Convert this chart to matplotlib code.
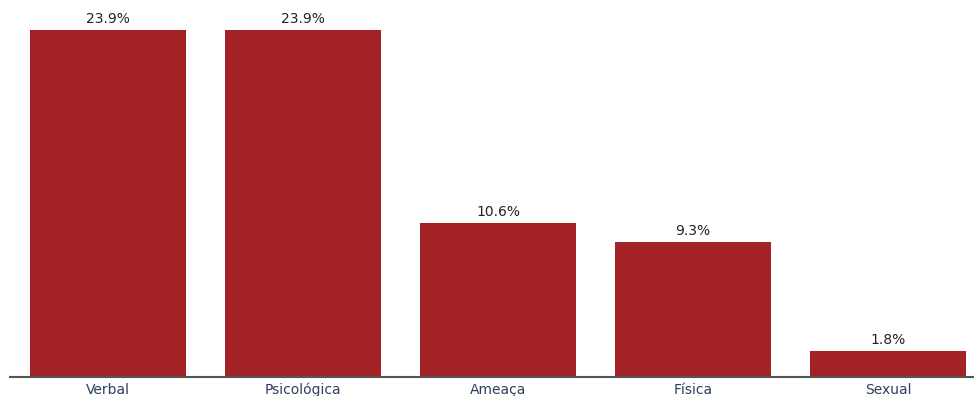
import matplotlib.pyplot as plt

categories = ["Verbal", "Psicológica", "Ameaça", "Física", "Sexual"]
values = [23.9, 23.9, 10.6, 9.3, 1.8]
labels = ["23.9%", "23.9%", "10.6%", "9.3%", "1.8%"]

fig = plt.figure(figsize=(9.74, 3.96), dpi=100)
ax = fig.add_axes([10 / 974, 19 / 396, 964 / 974, 377 / 396])

bars = ax.bar(range(len(categories)), values, width=0.8, color="#a32226")

for b, lab in zip(bars, labels):
    ax.annotate(lab, (b.get_x() + b.get_width() / 2, b.get_height()),
                xytext=(0, 3), textcoords="offset points",
                ha="center", va="bottom", fontsize=10, color="#222222")

ax.set_xlim(-0.503, 4.44)
ax.set_ylim(0, 25.96)
ax.set_xticks(range(len(categories)))
ax.set_xticklabels(categories, fontsize=10, color="#2e3f5c")
ax.tick_params(axis="x", length=0, pad=4)
ax.set_yticks([])
for s in ["top", "right", "left"]:
    ax.spines[s].set_visible(False)
ax.spines["bottom"].set_color("#555555")
ax.spines["bottom"].set_linewidth(1.5)

fig.savefig("out.png", dpi=100)
